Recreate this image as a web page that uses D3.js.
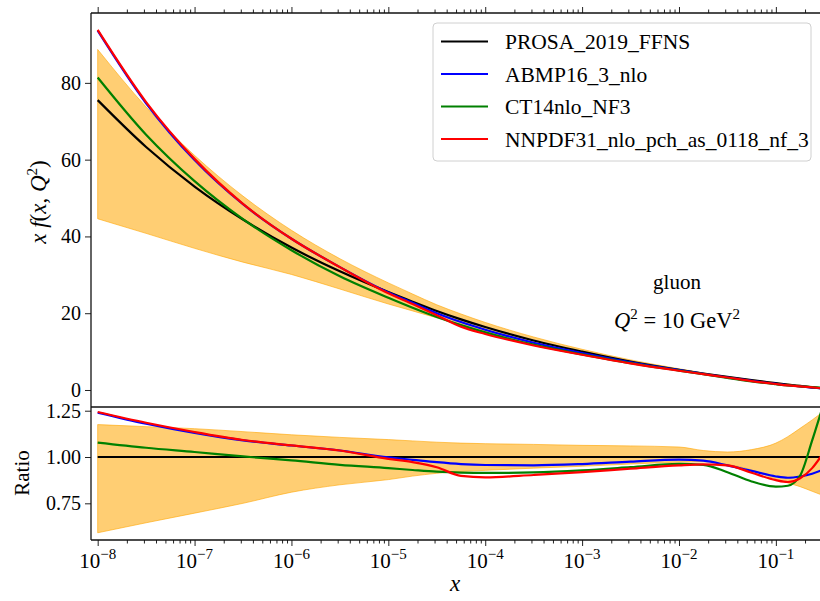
<!DOCTYPE html>
<html>
<head>
<meta charset="utf-8">
<script src="https://cdn.jsdelivr.net/npm/d3@7/dist/d3.min.js"></script>
<style>
  html, body { margin: 0; padding: 0; background: #fff; }
  svg { display: block; }
  text { font-family: "Liberation Serif", "Times New Roman", serif; fill: #000; }
</style>
</head>
<body>
<svg id="chart" width="820" height="601"></svg>
<script>
// ---------------- data ----------------
const xValues = [1e-8, 3.16e-8, 1e-7, 3.16e-7, 1e-6, 3.16e-6, 1e-5, 1.78e-5, 3.16e-5, 5.62e-5,
  1e-4, 3.16e-4, 1e-3, 3.16e-3, 1e-2, 1.78e-2, 3.16e-2, 5.62e-2, 1e-1, 1.33e-1, 1.78e-1, 2.37e-1, 3.16e-1];

const seriesNames = ["PROSA_2019_FFNS", "ABMP16_3_nlo", "CT14nlo_NF3", "NNPDF31_nlo_pch_as_0118_nf_3"];
const seriesColors = ["#000000", "#0000ff", "#008000", "#ff0000"];

// x f(x,Q^2), upper panel
const prosaXf = [75.5, 63.3, 53.0, 44.4, 37.1, 30.9, 25.5, 23.0, 20.6, 18.4, 16.4, 12.9, 10.0, 7.4, 5.25, 4.3, 3.4, 2.55, 1.78, 1.4, 1.05, 0.7, 0.38];
const abmpXf  = [93.6, 74.7, 59.9, 48.4, 39.4, 32.0, 25.4, 22.7, 20.0, 17.7, 15.7, 12.3, 9.62, 7.22, 5.18, 4.21, 3.25, 2.36, 1.59, 1.24, 0.94, 0.64, 0.36];
const ct14Xf  = [81.4, 66.5, 54.4, 44.5, 36.4, 29.6, 24.0, 21.4, 19.0, 16.9, 15.0, 11.8, 9.28, 6.99, 5.06, 4.12, 3.12, 2.21, 1.50, 1.18, 0.95, 0.76, 0.49];
const nnpdfXf = [93.8, 75.0, 60.2, 48.5, 39.4, 32.0, 25.2, 22.4, 19.5, 16.5, 14.6, 11.6, 9.18, 6.93, 5.01, 4.13, 3.25, 2.33, 1.56, 1.21, 0.93, 0.66, 0.39];
const prosaBandHigh = [88.7, 73.7, 61.1, 50.5, 41.6, 34.2, 27.9, 25.0, 22.2, 19.8, 17.6, 13.8, 10.6, 7.84, 5.53, 4.45, 3.49, 2.65, 1.91, 1.55, 1.21, 0.84, 0.48];
const prosaBandLow  = [44.6, 40.8, 36.9, 33.3, 30.1, 26.3, 22.4, 20.6, 18.8, 17.0, 15.2, 12.1, 9.5, 7.12, 5.10, 4.18, 3.26, 2.37, 1.57, 1.20, 0.88, 0.57, 0.30];

// ratio to PROSA, lower panel
const prosaRatio = [1, 1, 1, 1, 1, 1, 1, 1, 1, 1, 1, 1, 1, 1, 1, 1, 1, 1, 1, 1, 1, 1, 1];
const abmpRatio  = [1.24, 1.18, 1.13, 1.09, 1.062, 1.035, 0.998, 0.985, 0.972, 0.962, 0.957, 0.955, 0.962, 0.975, 0.986, 0.98, 0.955, 0.925, 0.895, 0.888, 0.895, 0.91, 0.935];
const ct14Ratio  = [1.078, 1.05, 1.027, 1.003, 0.982, 0.958, 0.94, 0.93, 0.921, 0.916, 0.914, 0.917, 0.928, 0.945, 0.963, 0.958, 0.918, 0.868, 0.84, 0.845, 0.9, 1.09, 1.3];
const nnpdfRatio = [1.243, 1.185, 1.135, 1.092, 1.063, 1.035, 0.99, 0.972, 0.945, 0.898, 0.89, 0.903, 0.918, 0.937, 0.955, 0.96, 0.955, 0.915, 0.875, 0.865, 0.885, 0.94, 1.03];
const bandRatioHigh = [1.175, 1.164, 1.153, 1.137, 1.12, 1.106, 1.094, 1.087, 1.08, 1.075, 1.072, 1.068, 1.063, 1.06, 1.054, 1.035, 1.027, 1.04, 1.075, 1.11, 1.155, 1.2, 1.25];
const bandRatioLow  = [0.591, 0.645, 0.697, 0.75, 0.81, 0.85, 0.878, 0.897, 0.912, 0.922, 0.928, 0.94, 0.95, 0.962, 0.972, 0.973, 0.96, 0.93, 0.88, 0.86, 0.84, 0.815, 0.79];

// ticks
const xTickExponents = [-8, -7, -6, -5, -4, -3, -2, -1, 0];
const upperYTicks = [0, 20, 40, 60, 80];
const ratioYTicks = [0.75, 1.00, 1.25];

// ---------------- layout ----------------
const svg = d3.select("#chart");
const L = 91, R = 834, T = 13, MID = 407, B = 540;

const x = d3.scaleLog().domain([Math.pow(10, -8.069), Math.pow(10, -0.4)]).range([L, R]);
const yTop = d3.scaleLinear().domain([-4.43, 98.2]).range([MID, T]);
const yRat = d3.scaleLinear().domain([0.552, 1.27]).range([B, MID]);

const defs = svg.append("defs");
defs.append("clipPath").attr("id", "clipTop").append("rect")
  .attr("x", L).attr("y", T).attr("width", R - L).attr("height", MID - T);
defs.append("clipPath").attr("id", "clipBot").append("rect")
  .attr("x", L).attr("y", MID).attr("width", R - L).attr("height", B - MID);

const majors = xTickExponents.map(e => Math.pow(10, e));
const minors = [];
xTickExponents.forEach(e => { for (let k = 2; k <= 9; k++) minors.push(k * Math.pow(10, e)); });
const inDomain = v => v >= x.domain()[0] && v <= x.domain()[1] * 1.0001;

// ---------------- upper panel ----------------
const gTop = svg.append("g").attr("clip-path", "url(#clipTop)");
const curve = d3.curveMonotoneX;

const areaTop = d3.area().x((d, i) => x(xValues[i])).y0((d, i) => yTop(prosaBandLow[i])).y1((d, i) => yTop(prosaBandHigh[i])).curve(curve);
gTop.append("path").datum(xValues).attr("d", areaTop)
  .attr("fill", "#ffa500").attr("fill-opacity", 0.55)
  .attr("stroke", "#ffa500").attr("stroke-opacity", 0.6).attr("stroke-width", 1);

const upperSeries = [prosaXf, abmpXf, ct14Xf, nnpdfXf];
upperSeries.forEach((vals, s) => {
  const line = d3.line().x((d, i) => x(xValues[i])).y(d => yTop(d)).curve(curve);
  gTop.append("path").datum(vals).attr("d", line)
    .attr("fill", "none").attr("stroke", seriesColors[s]).attr("stroke-width", 2.2);
});

// ---------------- lower panel ----------------
const gBot = svg.append("g").attr("clip-path", "url(#clipBot)");
const areaBot = d3.area().x((d, i) => x(xValues[i])).y0((d, i) => yRat(bandRatioLow[i])).y1((d, i) => yRat(bandRatioHigh[i])).curve(curve);
gBot.append("path").datum(xValues).attr("d", areaBot)
  .attr("fill", "#ffa500").attr("fill-opacity", 0.55)
  .attr("stroke", "#ffa500").attr("stroke-opacity", 0.6).attr("stroke-width", 1);

const ratioSeries = [prosaRatio, abmpRatio, ct14Ratio, nnpdfRatio];
ratioSeries.forEach((vals, s) => {
  const line = d3.line().x((d, i) => x(xValues[i])).y(d => yRat(d)).curve(curve);
  gBot.append("path").datum(vals).attr("d", line)
    .attr("fill", "none").attr("stroke", seriesColors[s]).attr("stroke-width", 2.2);
});

// ---------------- axes ----------------
function styleAxis(g) {
  g.select(".domain").remove();
  g.selectAll(".tick line").attr("stroke", "#222").attr("stroke-width", 1);
  g.selectAll(".tick text").style("font-family", "'Liberation Serif', serif").style("font-size", "20px").attr("fill", "#000");
}

// left axes
svg.append("g").attr("transform", `translate(${L},0)`)
  .call(d3.axisLeft(yTop).tickValues(upperYTicks).tickSize(6).tickPadding(4).tickFormat(d3.format("d")))
  .call(styleAxis);
svg.append("g").attr("transform", `translate(${L},0)`)
  .call(d3.axisLeft(yRat).tickValues(ratioYTicks).tickSize(6).tickPadding(4).tickFormat(d3.format(".2f")))
  .call(styleAxis);

// top axis (outward ticks)
svg.append("g").attr("transform", `translate(0,${T})`)
  .call(d3.axisTop(x).tickValues(majors.filter(inDomain)).tickSize(6).tickFormat(""))
  .call(styleAxis);
svg.append("g").attr("transform", `translate(0,${T})`)
  .call(d3.axisTop(x).tickValues(minors.filter(inDomain)).tickSize(3.5).tickFormat(""))
  .call(styleAxis);

// bottom axis
svg.append("g").attr("transform", `translate(0,${B})`)
  .call(d3.axisBottom(x).tickValues(majors.filter(inDomain)).tickSize(6).tickFormat(""))
  .call(styleAxis);
svg.append("g").attr("transform", `translate(0,${B})`)
  .call(d3.axisBottom(x).tickValues(minors.filter(inDomain)).tickSize(3.5).tickFormat(""))
  .call(styleAxis);

// x tick labels with superscripts
xTickExponents.forEach(e => {
  const v = Math.pow(10, e);
  if (!inDomain(v)) return;
  const t = svg.append("text").attr("x", x(v)).attr("y", 568)
    .attr("text-anchor", "middle").style("font-size", "21px");
  t.append("tspan").text("10");
  t.append("tspan").attr("dy", -9).style("font-size", "15px").text("\u2212" + Math.abs(e));
});

// spines
const spine = (x1, y1, x2, y2) => svg.append("line").attr("x1", x1).attr("y1", y1).attr("x2", x2).attr("y2", y2)
  .attr("stroke", "#111").attr("stroke-width", 1.3);
spine(L, T, L, B);
spine(L, T, 820, T);
spine(L, MID, 820, MID);
spine(L, B, 820, B);

// ---------------- labels ----------------
const yl = svg.append("text").attr("transform", "translate(46,202) rotate(-90)")
  .attr("text-anchor", "middle").style("font-size", "23px").style("font-style", "italic");
yl.append("tspan").text("x f");
yl.append("tspan").style("font-style", "normal").text("(");
yl.append("tspan").text("x");
yl.append("tspan").style("font-style", "normal").text(", ");
yl.append("tspan").text("Q");
yl.append("tspan").attr("dy", -9).style("font-size", "15px").style("font-style", "normal").text("2");
yl.append("tspan").attr("dy", 9).style("font-style", "normal").text(")");

svg.append("text").attr("transform", "translate(29,473) rotate(-90)")
  .attr("text-anchor", "middle").style("font-size", "21px").text("Ratio");

svg.append("text").attr("x", 455).attr("y", 591).attr("text-anchor", "middle")
  .style("font-size", "23px").style("font-style", "italic").text("x");

svg.append("text").attr("x", 677).attr("y", 289).attr("text-anchor", "middle")
  .style("font-size", "21px").text("gluon");
const q = svg.append("text").attr("x", 677).attr("y", 328).attr("text-anchor", "middle").style("font-size", "22.5px");
q.append("tspan").style("font-style", "italic").text("Q");
q.append("tspan").attr("dy", -9).style("font-size", "15px").text("2");
q.append("tspan").attr("dy", 9).text(" = 10 GeV");
q.append("tspan").attr("dy", -9).style("font-size", "15px").text("2");

// ---------------- legend ----------------
const lg = svg.append("g");
lg.append("rect").attr("x", 433).attr("y", 23).attr("width", 378).attr("height", 138)
  .attr("rx", 4).attr("fill", "#fff").attr("fill-opacity", 0.8)
  .attr("stroke", "#d0d0d0").attr("stroke-width", 1);
seriesNames.forEach((name, i) => {
  const yy = 41.5 + i * 32.5;
  lg.append("line").attr("x1", 441).attr("x2", 488).attr("y1", yy).attr("y2", yy)
    .attr("stroke", seriesColors[i]).attr("stroke-width", 2.2);
  lg.append("text").attr("x", 505).attr("y", yy).attr("dy", "0.35em")
    .style("font-size", "21.5px").text(name);
});
</script>
</body>
</html>
